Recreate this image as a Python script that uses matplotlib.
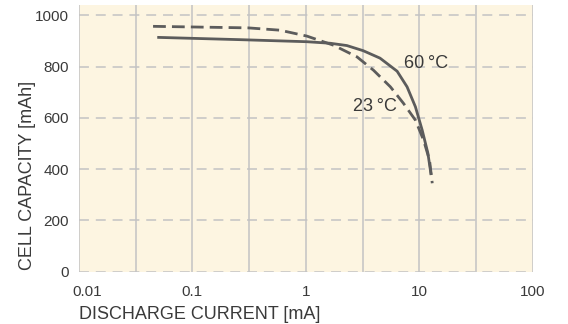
import matplotlib
matplotlib.use("Agg")
import matplotlib.pyplot as plt
import matplotlib.transforms as mtransforms
from matplotlib.ticker import FixedLocator, FixedFormatter, NullFormatter

plt.rcParams['font.family'] = ['Liberation Sans', 'DejaVu Sans']

# Data
current_60 = [0.049, 0.264, 1.02, 1.64, 2.3, 3.2, 4.5, 6.37, 7.8, 9.24, 10.6, 11.9, 12.7]
capacity_60 = [914, 905, 897, 891, 882, 862, 833, 782, 721, 643, 552, 462, 377]

current_23 = [0.045, 0.31, 0.59, 1.02, 1.76, 2.82, 3.94, 5.56, 7.24, 9.24, 10.9, 12.3, 13.0]
capacity_23 = [957, 951, 942, 919, 883, 838, 786, 721, 657, 591, 513, 435, 345]

x_ticks = [0.01, 0.1, 1, 10, 100]
x_tick_labels = ["0.01", "0.1", "1", "10", "100"]
x_grid = [10 ** -1.5, 10 ** -0.5, 10 ** 0.5, 10 ** 1.5]
y_ticks = [0, 200, 400, 600, 800, 1000]

line_color = "#5c5c5c"
grid_color = "#c3c3c3"
text_color = "#3a3a3a"

fig = plt.figure(figsize=(5.68, 3.24), dpi=100)
ax = fig.add_axes([0.139, 0.1614, 0.799, 0.823])
ax.set_facecolor("#fdf5e1")

ax.set_xscale("log")
ax.set_xlim(0.01, 100)
ax.set_ylim(0, 1040)

ax.xaxis.set_major_locator(FixedLocator(x_ticks))
ax.xaxis.set_major_formatter(FixedFormatter(x_tick_labels))
ax.xaxis.set_minor_locator(FixedLocator(x_grid))
ax.xaxis.set_minor_formatter(NullFormatter())
ax.set_yticks(y_ticks)

ax.grid(True, axis="x", which="both", color=grid_color, linewidth=1.1, linestyle="-")
ax.grid(True, axis="y", which="major", color=grid_color, linewidth=1.1, linestyle=(0, (6.5, 4.5)))
ax.set_axisbelow(True)

for s in ax.spines.values():
    s.set_visible(False)

ax.tick_params(axis="both", which="both", length=0, labelsize=11, labelcolor=text_color)
ax.tick_params(axis="x", pad=9.5)
ax.tick_params(axis="y", pad=7)

ax.plot(current_60, capacity_60, color=line_color, linewidth=2.0, solid_capstyle="butt")
ax.plot(current_23, capacity_23, color=line_color, linewidth=2.0, linestyle=(0, (4.6, 2.2)))

ax.text(7.39, 813, "60\u2009°C", fontsize=13, color=text_color, ha="left", va="center")
ax.text(2.62, 644, "23\u2009°C", fontsize=13, color=text_color, ha="left", va="center")

ax.set_xlabel("DISCHARGE CURRENT [mA]", fontsize=13, color=text_color)
ax.xaxis.set_label_coords(0.267, -0.128)
ax.set_ylabel("CELL CAPACITY [mAh]", fontsize=13, color=text_color)
ax.yaxis.set_label_coords(-0.095, 0.36)

# shift first x tick label slightly right, as in the reference
fig.canvas.draw()
first = ax.get_xticklabels()[0]
first.set_transform(first.get_transform() + mtransforms.ScaledTranslation(6 / 72, 0, fig.dpi_scale_trans))

fig.savefig("out.png", dpi=100)
